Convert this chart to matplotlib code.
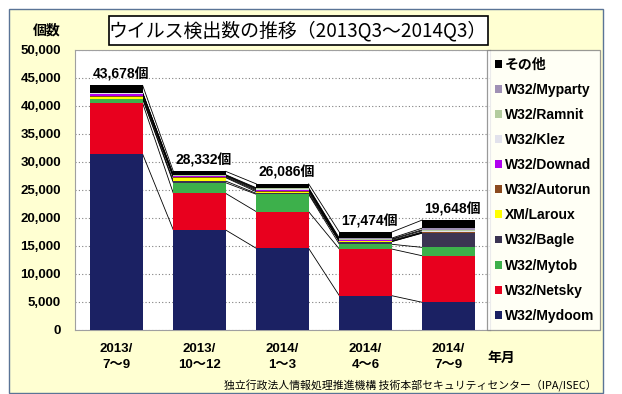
import matplotlib
matplotlib.use("Agg")
import matplotlib.pyplot as plt
from matplotlib.patches import Rectangle, Patch
import numpy as np

plt.rcParams['font.family'] = ['Liberation Sans', 'Noto Sans CJK JP', 'DejaVu Sans']

categories = ["2013/\n7～9", "2013/\n10～12", "2014/\n1～3", "2014/\n4～6", "2014/\n7～9"]
totals = [43678, 28332, 26086, 17474, 19648]

# stack order bottom -> top
series_names = ["W32/Mydoom", "W32/Netsky", "W32/Mytob", "W32/Bagle", "XM/Laroux",
                "W32/Autorun", "W32/Downad", "W32/Klez", "W32/Ramnit", "W32/Myparty", "その他"]
mydoom  = [31400, 17860, 14580, 6130, 4940]
netsky  = [9100, 6540, 6550, 8330, 8310]
mytob   = [778, 1900, 3100, 850, 1500]
bagle   = [30, 302, 156, 464, 2550]
laroux  = [300, 600, 300, 30, 50]
autorun = [200, 120, 200, 50, 100]
downad  = [420, 150, 150, 150, 50]
klez    = [50, 100, 150, 150, 250]
ramnit  = [50, 80, 100, 100, 150]
myparty = [50, 80, 100, 150, 300]
other   = [1300, 600, 700, 1070, 1448]
series_values = [mydoom, netsky, mytob, bagle, laroux, autorun, downad, klez, ramnit, myparty, other]
series_colors = ["#1B2163", "#E8001E", "#3DB04B", "#3B3452", "#FFFF00",
                 "#8B4A1E", "#B000F0", "#E2E2EC", "#B3CC9E", "#A091B5", "#000000"]

W, H = 622, 394
fig = plt.figure(figsize=(W / 100, H / 100), dpi=100)
fig.patch.set_facecolor("white")

def fx(px):
    return px / W

def fy(py):
    return 1 - py / H

# cream frame
fig.patches.append(Rectangle((fx(9), fy(393)), fx(603) - fx(9), fy(9) - fy(393),
                             transform=fig.transFigure, facecolor="#FFFFD2",
                             edgecolor="#5A7496", lw=1.0, zorder=-5))

ax = fig.add_axes([fx(75), fy(330), fx(490) - fx(75), fy(50) - fy(330)])
ax.set_facecolor("white")
ax.set_zorder(2)

x = np.arange(len(categories))
width = 0.63
bottom = np.zeros(len(categories))
cum_levels = []
for name, vals, col in zip(series_names, series_values, series_colors):
    ax.bar(x, vals, width, bottom=bottom, color=col, label=name, zorder=3, linewidth=0)
    bottom = bottom + np.array(vals)
    cum_levels.append(bottom.copy())

# series connector lines
for lvl in cum_levels:
    for i in range(len(x) - 1):
        ax.plot([x[i] + width / 2, x[i + 1] - width / 2], [lvl[i], lvl[i + 1]],
                color="black", lw=0.6, zorder=2)

for xi, t in zip(x, totals):
    ax.text(xi + 0.05, t + 700, f"{t:,}個", ha="center", va="bottom",
            fontsize=10, fontweight="bold")

ax.set_xlim(-0.5, len(categories) - 0.5)
ax.set_ylim(0, 50000)
ax.set_yticks(np.arange(0, 50001, 5000))
ax.set_yticklabels([f"{v:,}" for v in range(0, 50001, 5000)], fontsize=9.5, fontweight="bold")
ax.set_xticks(x)
ax.set_xticklabels(categories, fontsize=9.5, fontweight="bold", linespacing=1.5)
ax.tick_params(axis="both", length=0)
ax.tick_params(axis="x", pad=9)
ax.tick_params(axis="y", pad=10)
ax.yaxis.grid(True, linestyle=(0, (1, 2)), color="#808080", lw=0.8, zorder=0)
for s in ax.spines.values():
    s.set_color("#A0A0A0")
    s.set_linewidth(0.8)

# legend
handles = [Patch(facecolor=c, edgecolor="none", label=n)
           for n, c in zip(series_names[::-1], series_colors[::-1])]
leg = fig.legend(handles=handles, loc="upper left",
                 bbox_to_anchor=(fx(487), fy(331), fx(600) - fx(487), fy(50) - fy(331)),
                 mode="expand", frameon=True, fancybox=False, borderpad=0.55,
                 labelspacing=0.8, handlelength=0.5, handleheight=0.5,
                 handletextpad=0.25, borderaxespad=0,
                 prop={"weight": "bold", "size": 10})
leg.get_frame().set_edgecolor("#808080")
leg.get_frame().set_linewidth(0.9)
leg.set_zorder(3)

# title box
fig.patches.append(Rectangle((fx(109), fy(45)), fx(488) - fx(109), fy(16) - fy(45),
                             transform=fig.transFigure, facecolor="white",
                             edgecolor="black", lw=1.2, zorder=1))
fig.text(fx(298), fy(30.5), "ウイルス検出数の推移（2013Q3～2014Q3）", ha="center", va="center",
         fontsize=13.6, family=["Noto Sans CJK JP"], zorder=2)

fig.text(fx(47), fy(31), "個数", ha="center", va="center", fontsize=10,
         fontweight="bold", family=["Noto Sans CJK JP"])
fig.text(fx(501), fy(358), "年月", ha="center", va="center", fontsize=10,
         fontweight="bold", family=["Noto Sans CJK JP"])
fig.text(fx(597), fy(386), "独立行政法人情報処理推進機構 技術本部セキュリティセンター（IPA/ISEC）",
         ha="right", va="center", fontsize=7.8, family=["Noto Sans CJK JP"])

fig.savefig("out.png", dpi=100)
